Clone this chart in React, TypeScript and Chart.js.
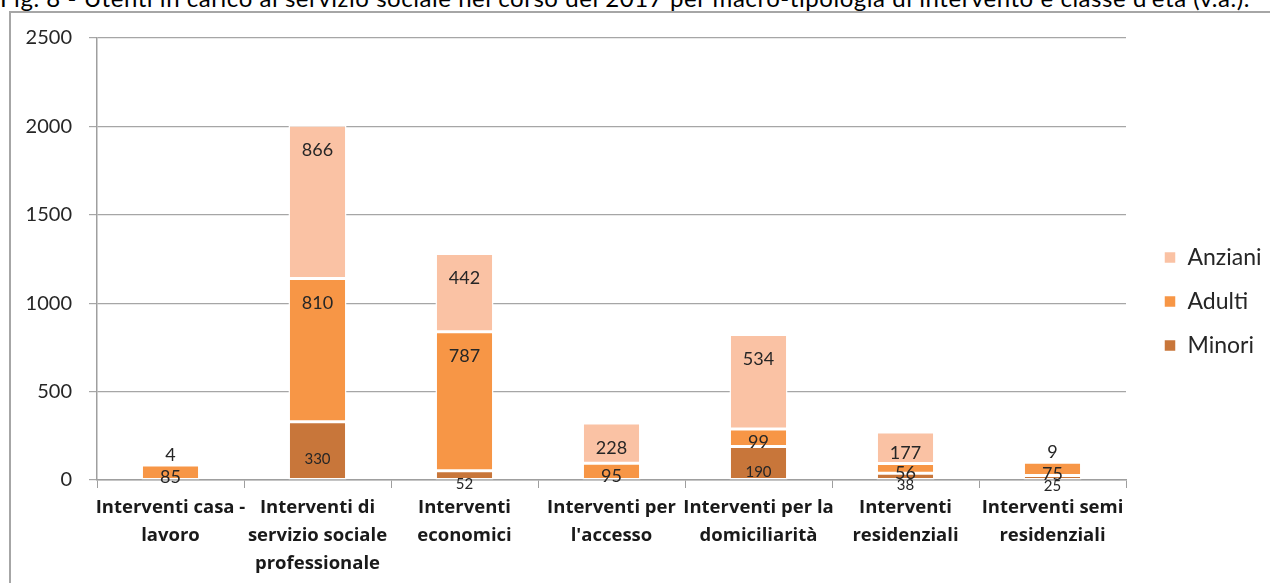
import React, { useEffect, useRef } from "react";
import { Chart, registerables } from "chart.js";

Chart.register(...registerables);

const TITLE =
  "Fig. 8 - Utenti in carico al servizio sociale nel corso del 2017 per macro-tipologia di intervento e classe d'età (v.a.).";

const categories: string[][] = [
  ["Interventi casa -", "lavoro"],
  ["Interventi di", "servizio sociale", "professionale"],
  ["Interventi", "economici"],
  ["Interventi per", "l'accesso"],
  ["Interventi per la", "domiciliarità"],
  ["Interventi", "residenziali"],
  ["Interventi semi", "residenziali"],
];

const seriesNames: string[] = ["Minori", "Adulti", "Anziani"];
const minori: (number | null)[] = [null, 330, 52, null, 190, 38, 25];
const adulti: number[] = [85, 810, 787, 95, 99, 56, 75];
const anziani: number[] = [4, 866, 442, 228, 534, 177, 9];

const yTicks: number[] = [0, 500, 1000, 1500, 2000, 2500];

const FONT = "Lato, 'Noto Sans', sans-serif";
const XFONT = "'Open Sans', Lato, sans-serif";
const LEGEND_SIZE = 23;
const LEGEND_PAD = 21;
const CANVAS_W = 1259;
const CANVAS_H = 570;
const PLOT_RIGHT = 1125;

const segLabels = {
  id: "segLabels",
  afterDatasetsDraw(chart: any) {
    const ctx = chart.ctx;
    ctx.save();
    ctx.textAlign = "center";
    ctx.textBaseline = "middle";
    ctx.fillStyle = "#262626";
    chart.data.datasets.forEach((ds: any, di: number) => {
      const meta = chart.getDatasetMeta(di);
      if (meta.hidden) return;
      meta.data.forEach((el: any, i: number) => {
        const v = ds.data[i];
        if (v == null || v === 0) return;
        const p = el.getProps(["x", "y", "base"], true);
        const top = Math.min(p.y, p.base);
        const bottom = Math.max(p.y, p.base);
        const h = bottom - top;
        let ly: number;
        let size = 18;
        if (di === 0) {
          size = 15;
          ly = (top + bottom) / 2 + 9;
        } else if (h > 35) {
          ly = top + 25;
        } else if (h < 5) {
          ly = top - 9;
        } else {
          ly = (top + bottom) / 2 + 5;
        }
        ctx.font = `${size}px ${FONT}`;
        ctx.fillText(String(v), p.x, ly);
      });
    });
    ctx.restore();
  },
};

const legendShift = {
  id: "legendShift",
  afterLayout(chart: any) {
    const lg = chart.legend;
    if (!lg) return;
    const target = chart.chartArea.right + 17;
    const dx = target - lg.left;
    lg.left += dx;
    lg.right += dx;
    lg.top -= 9;
    lg.bottom -= 9;
  },
};

function legendWidth(): number {
  const c = document.createElement("canvas");
  const ctx = c.getContext("2d");
  if (!ctx) return 120;
  ctx.font = `${LEGEND_SIZE}px ${FONT}`;
  let w = 0;
  seriesNames.forEach((n) => {
    w = Math.max(w, ctx.measureText(n).width);
  });
  return LEGEND_PAD + 12 + LEGEND_SIZE / 2 + w;
}

export default function App() {
  const ref = useRef<HTMLCanvasElement | null>(null);

  useEffect(() => {
    if (!ref.current) return;
    const padRight = Math.max(0, CANVAS_W - PLOT_RIGHT - legendWidth());
    const chart = new Chart(ref.current, {
      type: "bar",
      data: {
        labels: categories as any,
        datasets: [
          {
            label: seriesNames[0],
            data: minori as any,
            backgroundColor: "#C8763A",
            borderColor: "#ffffff",
            borderWidth: 1.5,
            borderSkipped: false,
          },
          {
            label: seriesNames[1],
            data: adulti,
            backgroundColor: "#F79646",
            borderColor: "#ffffff",
            borderWidth: 1.5,
            borderSkipped: false,
          },
          {
            label: seriesNames[2],
            data: anziani,
            backgroundColor: "#FAC2A4",
            borderColor: "#ffffff",
            borderWidth: 1.5,
            borderSkipped: false,
          },
        ],
      },
      options: {
        responsive: false,
        animation: false,
        devicePixelRatio: 1,
        layout: { padding: { top: 25, right: padRight, bottom: 0, left: 0 } },
        datasets: {
          bar: { barPercentage: 0.395, categoryPercentage: 1 },
        },
        plugins: {
          tooltip: { enabled: false },
          title: { display: false },
          legend: {
            position: "right",
            reverse: true,
            labels: {
              boxWidth: 12,
              boxHeight: 12,
              padding: LEGEND_PAD,
              color: "#262626",
              font: { family: FONT, size: LEGEND_SIZE },
            },
          },
        },
        scales: {
          x: {
            stacked: true,
            grid: {
              display: true,
              offset: true,
              drawOnChartArea: false,
              drawTicks: true,
              tickLength: 8,
              color: "#9f9f9f",
            },
            border: { display: true, color: "#9f9f9f", width: 1.5 },
            ticks: {
              autoSkip: false,
              maxRotation: 0,
              padding: 6,
              color: "#1a1a1a",
              font: { family: XFONT, size: 18.5, weight: "bold", lineHeight: 1.5 },
            },
            afterFit(scale: any) {
              scale.height = 103;
            },
          },
          y: {
            stacked: true,
            min: 0,
            max: 2500,
            afterBuildTicks(scale: any) {
              scale.ticks = yTicks.map((v) => ({ value: v }));
            },
            grid: {
              color: "#a6a6a6",
              lineWidth: 1.2,
              tickLength: 8,
              drawTicks: true,
            },
            border: { display: true, color: "#9f9f9f", width: 1.5 },
            ticks: {
              padding: 17,
              color: "#262626",
              font: { family: FONT, size: 20 },
              callback: (v: any) => String(v),
            },
            afterFit(scale: any) {
              scale.width = 86;
              scale.paddingTop = 0;
              scale.paddingBottom = 0;
            },
          },
        },
      },
      plugins: [segLabels, legendShift],
    });
    return () => chart.destroy();
  }, []);

  return (
    <div
      style={{
        position: "fixed",
        left: 0,
        top: 0,
        width: 1270,
        height: 583,
        overflow: "hidden",
        background: "#ffffff",
      }}
    >
      <div
        style={{
          position: "absolute",
          left: 0,
          top: -17,
          whiteSpace: "nowrap",
          fontFamily: FONT,
          fontSize: 24,
          letterSpacing: "0.55px",
          lineHeight: "29px",
          color: "#000000",
        }}
      >
        {TITLE}
      </div>
      <div
        style={{
          position: "absolute",
          left: 9,
          top: 11,
          width: 1320,
          height: 620,
          border: "2px solid #a6a6a6",
          boxSizing: "border-box",
        }}
      />
      <div style={{ position: "absolute", left: 11, top: 13, width: CANVAS_W, height: CANVAS_H }}>
        <canvas ref={ref} width={CANVAS_W} height={CANVAS_H} style={{ width: CANVAS_W, height: CANVAS_H }} />
      </div>
    </div>
  );
}
